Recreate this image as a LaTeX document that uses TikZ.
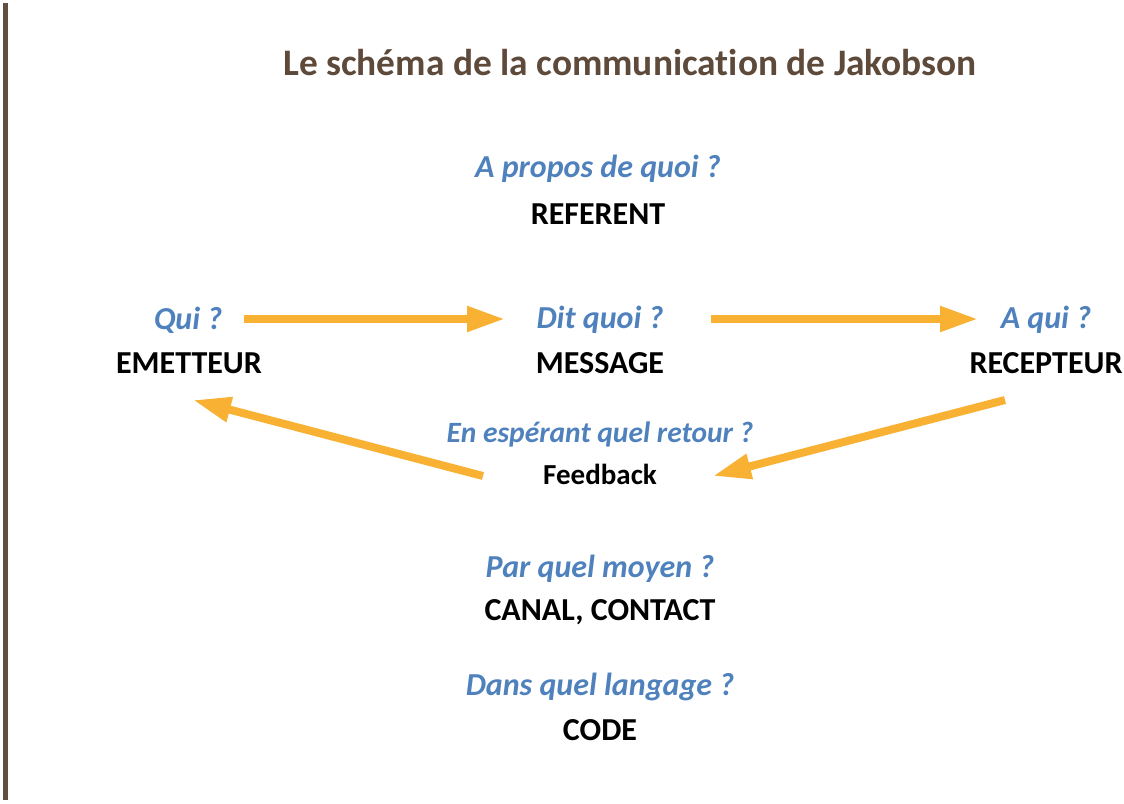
\documentclass[tikz,border=0pt]{standalone}
\usepackage{fontspec}
\setmainfont[Ligatures=CommonOff]{Carlito}
\usetikzlibrary{arrows.meta}
\definecolor{brownbar}{HTML}{634F3F}
\definecolor{titlebrown}{HTML}{5E4A3A}
\definecolor{qblue}{HTML}{4F81BD}
\definecolor{aorange}{HTML}{F8B133}
\begin{document}
\begin{tikzpicture}[x=1pt,y=-1pt,
  question/.style={text=qblue,font=\fontsize{32}{36}\selectfont\bfseries\itshape,inner sep=0pt,anchor=center},
  smallq/.style={text=qblue,font=\fontsize{29.5}{33}\selectfont\bfseries\itshape,inner sep=0pt,anchor=center},
  answer/.style={text=black,font=\fontsize{32}{36}\selectfont\bfseries,inner sep=0pt,anchor=center},
  small/.style={text=black,font=\fontsize{29}{32}\selectfont\bfseries,inner sep=0pt,anchor=center},
  flow/.style={draw=aorange,line width=8pt,-{Triangle[length=38pt,width=24pt]}}]
\useasboundingbox (0,0) rectangle (1124,803);
\fill[brownbar] (3,3) rectangle (8,800);
\node[text=titlebrown,font=\fontsize{37.4}{42}\selectfont\bfseries,inner sep=0pt] (title) at (630,63) {Le schéma de la communication de Jakobson};
\node[question] (qref) at (598,169) {A propos de quoi ?};
\node[answer] (ref) at (598,214) {REFERENT};
\node[question] (qui) at (188,320) {Qui ?};
\node[answer] (em) at (189,363) {EMETTEUR};
\node[question] (dit) at (600,320) {Dit quoi ?};
\node[answer] (msg) at (600,363) {MESSAGE};
\node[question] (aqui) at (1046,320) {A qui ?};
\node[answer] (rec) at (1046,363) {RECEPTEUR};
\node[smallq] (qfb) at (600,434) {En espérant quel retour ?};
\node[small] (fb) at (600,474) {Feedback};
\node[question] (qcan) at (600,569) {Par quel moyen ?};
\node[answer] (can) at (600,612) {CANAL, CONTACT};
\node[question] (qcode) at (600,687) {Dans quel langage ?};
\node[answer] (code) at (600,730) {CODE};
\coordinate (a1s) at (244,319); \coordinate (a1e) at (505,319);
\coordinate (a2s) at (711,319); \coordinate (a2e) at (978,319);
\coordinate (a3s) at (1005,400); \coordinate (a3e) at (713,476);
\coordinate (a4s) at (483,476); \coordinate (a4e) at (193,400);
\draw[flow] (a1s) -- (a1e);
\draw[flow] (a2s) -- (a2e);
\draw[flow] (a3s) -- (a3e);
\draw[flow] (a4s) -- (a4e);
\end{tikzpicture}
\end{document}
